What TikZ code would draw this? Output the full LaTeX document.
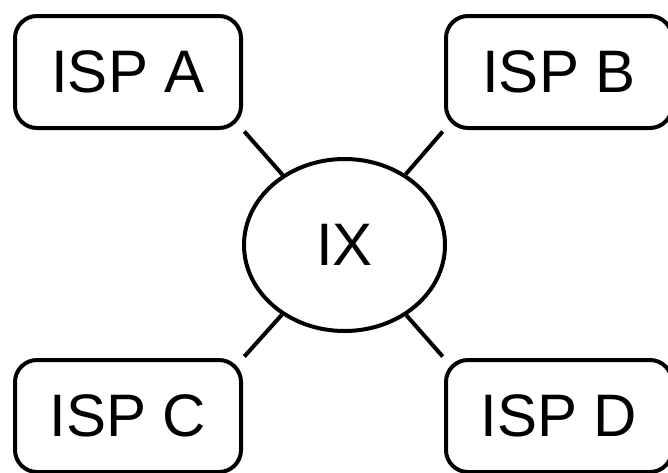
\documentclass[tikz,border=0pt]{standalone}
\usepackage{fontspec}
\setmainfont{Liberation Sans}
\usetikzlibrary{shapes.geometric}
\begin{document}
\begin{tikzpicture}[x=1pt,y=-1pt,
  isp/.style={draw, line width=4pt, rounded corners=22pt, inner sep=0pt,
    minimum width=226pt, minimum height=112pt,
    font=\fontsize{60}{72}\selectfont},
  hub/.style={draw, ellipse, line width=4pt, inner sep=0pt,
    minimum width=201pt, minimum height=172pt,
    font=\fontsize{60}{72}\selectfont},
  link/.style={line width=4pt}]
  \useasboundingbox (0,0) rectangle (668,472);
  \clip (0,0) rectangle (668,472);
  % exchange point in the middle
  \node[hub] (IX) at (344.5,245) {IX};
  % the four providers
  \node[isp] (A) at (128,72) {ISP A};
  \node[isp] (B) at (559,72) {ISP B};
  \node[isp] (C) at (128,416) {ISP C};
  \node[isp] (D) at (559,416) {ISP D};
  % peering links from each box corner to the exchange
  \draw[link, shorten <=2pt] (A.south east) -- (IX);
  \draw[link, shorten <=2pt] (B.south west) -- (IX);
  \draw[link, shorten <=2pt] (C.north east) -- (IX);
  \draw[link, shorten <=2pt] (D.north west) -- (IX);
\end{tikzpicture}
\end{document}
